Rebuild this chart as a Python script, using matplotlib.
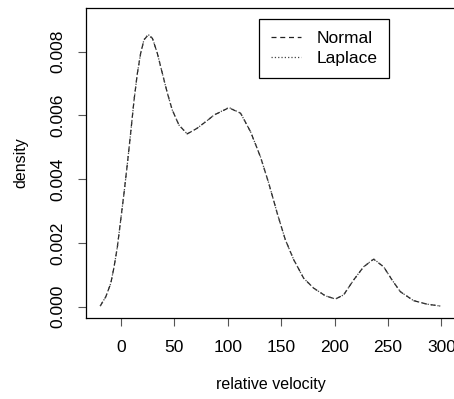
import matplotlib
matplotlib.use("Agg")
import matplotlib.pyplot as plt

# values (relative velocity vs. density)
vel = [-19.5, -14.3, -9.6, -6.5, -3.4, -0.3, 2.8, 6, 9, 12.2, 15.3, 18.4,
       21.5, 25.3, 29.4, 34, 38.7, 43.4, 48, 54.2, 62, 71.4, 82.3, 87, 101,
       112, 121.3, 130.6, 138.4, 146.3, 154, 161.8, 171.1, 180.5, 191.4,
       200.8, 208.5, 217.9, 227.2, 236.6, 246, 253.8, 261.6, 274, 286.5, 299]
dens_normal = [0.00002, 0.00031, 0.00073, 0.00125, 0.00188, 0.00272, 0.00356,
               0.0045, 0.00544, 0.00648, 0.00732, 0.00795, 0.00837, 0.00852,
               0.00842, 0.00795, 0.00732, 0.0067, 0.00617, 0.0057, 0.00542,
               0.0056, 0.00588, 0.00601, 0.00624, 0.00607, 0.00549, 0.0047,
               0.00387, 0.00293, 0.00209, 0.00147, 0.00089, 0.00058, 0.00034,
               0.00024, 0.00037, 0.00084, 0.00125, 0.00149, 0.00125, 0.00084,
               0.00047, 0.00019, 0.00008, 0.00002]
dens_laplace = [0.00002, 0.00031, 0.00073, 0.00125, 0.00188, 0.00272, 0.00356,
                0.0045, 0.00544, 0.00648, 0.00732, 0.00795, 0.00838, 0.00854,
                0.00843, 0.00795, 0.00732, 0.0067, 0.00617, 0.0057, 0.00542,
                0.0056, 0.00588, 0.00601, 0.00625, 0.00607, 0.00549, 0.0047,
                0.00387, 0.00293, 0.00209, 0.00147, 0.00089, 0.00058, 0.00034,
                0.00024, 0.00037, 0.00084, 0.00125, 0.0015, 0.00125, 0.00084,
                0.00047, 0.00019, 0.00008, 0.00002]

plt.rcParams['font.family'] = ['Liberation Sans', 'DejaVu Sans']
plt.rcParams['font.size'] = 11.5

fig = plt.figure(figsize=(4.54, 3.99), dpi=100)
ax = fig.add_axes([86/454, 1-318/399, (455-86)/454, 310/399])

ax.plot(vel, dens_normal, '--', color='#222222', lw=0.9, dashes=(4, 3), label='Normal')
ax.plot(vel, dens_laplace, ':', color='#444444', lw=0.9, label='Laplace')

ax.set_xlim(-32.8, 312.8)
ax.set_ylim(-0.000355, 0.00937)
ax.set_xticks([0, 50, 100, 150, 200, 250, 300])
ax.set_yticks([0.0, 0.002, 0.004, 0.006, 0.008])
ax.set_yticklabels(['0.000', '0.002', '0.004', '0.006', '0.008'], rotation=90, va='center')
ax.tick_params(direction='out', length=6, width=0.8, color='#555555', labelsize=12.5)
ax.tick_params(axis='x', pad=10)
ax.tick_params(axis='y', pad=9)
for s in ax.spines.values():
    s.set_linewidth(0.9)

ax.set_xlabel("relative velocity", labelpad=16)
ax.set_ylabel("density", labelpad=16)

leg = ax.legend(loc='upper left', bbox_to_anchor=((259-86)/369, 1-(19-8)/310),
                borderaxespad=0, fancybox=False, edgecolor='black', framealpha=1,
                handlelength=1.7, handletextpad=0.9, borderpad=0.7,
                labelspacing=0.25, fontsize=12.5)
leg.get_frame().set_linewidth(0.9)

plt.savefig("out.png", dpi=100)
